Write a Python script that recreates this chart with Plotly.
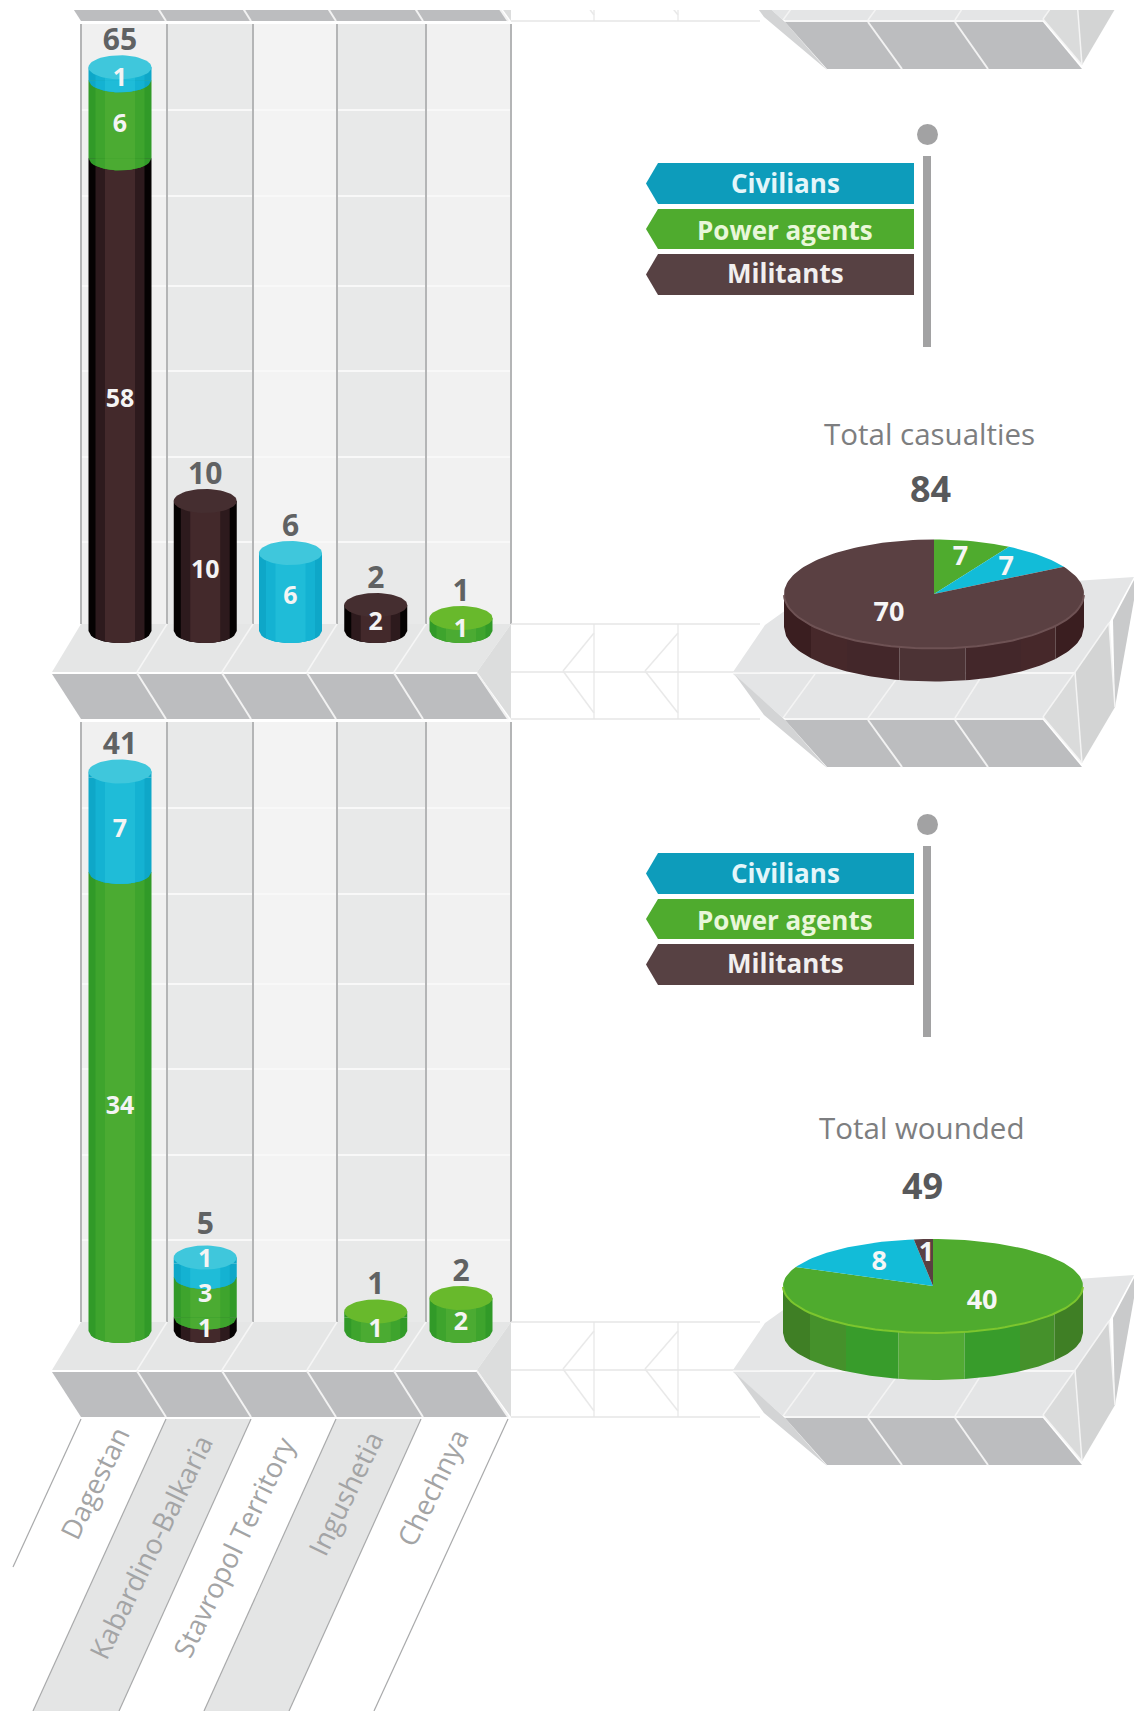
import numpy as np
import plotly.graph_objects as go

regions = ["Dagestan", "Kabardino-Balkaria", "Stavropol Territory", "Ingushetia", "Chechnya"]
killed_civilians = [1, 0, 6, 0, 0]
killed_agents = [6, 0, 0, 0, 1]
killed_militants = [58, 10, 0, 2, 0]
wounded_civilians = [7, 1, 0, 0, 0]
wounded_agents = [34, 3, 0, 1, 2]
wounded_militants = [0, 1, 0, 0, 0]
pie_killed_labels = ["Power agents", "Civilians", "Militants"]
pie_killed_values = [7, 7, 70]
pie_wounded_labels = ["Power agents", "Civilians", "Militants"]
pie_wounded_values = [40, 8, 1]
legend_labels = ["Civilians", "Power agents", "Militants"]

W, H = 1134, 1711
FONT = "Open Sans"
PANEL_DY = 698


def fx(x):
    return x / W


def fy(y):
    return 1 - y / H


shapes = []


def poly(pts, fill, dy=0):
    d = "M" + " L".join(f"{fx(x):.5f},{fy(y + dy):.5f}" for x, y in pts) + " Z"
    shapes.append(dict(type="path", path=d, xref="paper", yref="paper", layer="below",
                       fillcolor=fill, line=dict(width=0)))


def seg(p, q, color, width=1.5, dy=0):
    shapes.append(dict(type="line", xref="paper", yref="paper", layer="below",
                       x0=fx(p[0]), y0=fy(p[1] + dy), x1=fx(q[0]), y1=fy(q[1] + dy),
                       line=dict(color=color, width=width)))


# ---- scenery -------------------------------------------------------------
COL_X = [81, 167, 253, 337, 426, 511]
COL_FILL = ["#f0f0f0", "#e8e9e9", "#f3f3f3", "#e8e9e9", "#f1f1f1"]
FRONT_X = [52, 137, 222, 307, 394, 477]
LOW_X = [81, 166, 251, 336, 423, 508]

for dy in (0, PANEL_DY):
    for i, c in enumerate(COL_FILL):
        poly([(COL_X[i], 24), (COL_X[i + 1], 24), (COL_X[i + 1], 624), (COL_X[i], 624)], c, dy)
    for gy in (110, 196, 286, 371, 457, 542):
        seg((81, gy), (511, gy), "#f8f8f8", 2, dy)
    for x in COL_X:
        seg((x, 24), (x, 624), "#b4b5b6", 2, dy)

for dy in (-PANEL_DY, 0, PANEL_DY):
    # connector lines between plinths
    for ly in (624, 672, 719):
        seg((511, ly), (760, ly), "#e6e6e6", 1.5, dy)
    for vx, tip in ((594, 563), (678, 645)):
        seg((vx, 624), (vx, 719), "#e6e6e6", 1.2, dy)
        seg((vx, 633), (tip, 671), "#e9e9e9", 1.5, dy)
        seg((tip, 671), (vx, 713), "#e9e9e9", 1.5, dy)
    # left plinth
    poly([(81, 624), (511, 624), (477, 672), (52, 672)], "#e5e6e6", dy)
    poly([(477, 672), (511, 624), (511, 719)], "#dcdddd", dy)
    poly([(52, 674), (477, 674), (508, 719), (81, 719)], "#bcbdbf", dy)
    for i in range(1, 5):
        seg((COL_X[i], 624), (FRONT_X[i], 672), "#f6f6f6", 1.5, dy)
    for i in range(1, 6):
        seg((FRONT_X[i], 673), (LOW_X[i], 719), "#f2f2f2", 2, dy)
    # right plinth
    poly([(765, 625), (800, 600), (1134, 577), (1109, 623), (1075, 672), (733, 672)], "#e4e5e6", dy)
    poly([(733, 674), (1075, 674), (1043, 718), (783, 718)], "#e4e5e6", dy)
    poly([(735, 675), (785, 720), (827, 768), (764, 715)], "#d3d4d5", dy)
    poly([(785, 720), (1043, 720), (1082, 767), (827, 767)], "#bcbdbf", dy)
    poly([(1075, 672), (1043, 717), (1082, 763)], "#dadbdb", dy)
    poly([(1109, 623), (1075, 672), (1082, 763), (1115, 707)], "#d3d4d4", dy)
    poly([(1113, 620), (1134, 580), (1134, 600), (1115, 707)], "#c9cacb", dy)
    seg((733, 673), (1075, 673), "#f4f4f4", 1.5, dy)
    seg((785, 719), (1043, 719), "#f4f4f4", 1.5, dy)
    seg((1109, 623), (1075, 672), "#f4f4f4", 1.5, dy)
    seg((1075, 672), (1043, 717), "#f4f4f4", 1.5, dy)
    seg((1109, 623), (1115, 707), "#f4f4f4", 1.5, dy)
    seg((1075, 672), (1082, 763), "#f4f4f4", 1.5, dy)
    seg((1043, 717), (1082, 763), "#f4f4f4", 1.5, dy)
    for a, b in (((815, 674), (783, 718)), ((900, 674), (868, 718)), ((983, 674), (955, 718))):
        seg(a, b, "#f4f4f4", 1.5, dy)
    for a, b in (((868, 720), (902, 767)), ((955, 720), (988, 767))):
        seg(a, b, "#f2f2f2", 2, dy)

# page edge above the first visible plinth
shapes.append(dict(type="rect", xref="paper", yref="paper", layer="below",
                   x0=0, x1=1, y0=fy(10), y1=1, fillcolor="white", line=dict(width=0)))

# slanted label bands
band_top = [81, 166, 251, 336, 421, 508]
band_end = [(13, 1567), (33, 1711), (119, 1711), (204, 1711), (289, 1711), (374, 1711)]
for i in (1, 3):
    poly([(band_top[i], 1419), (band_top[i + 1], 1419), band_end[i + 1], band_end[i]], "#e4e5e5")
for top, end in zip(band_top, band_end):
    seg((top, 1419), end, "#a9aaab", 1.2)

# flag legends
LEGEND_FILL = ["#0d9cbb", "#4fab2e", "#574143"]
LEGEND_TEXT = ["#e4f6fa", "#e9f7da", "#f2efef"]
FLAG_Y = [(163, 204, 183), (209, 249, 230), (254, 295, 273)]
annotations = []


def note(x, y, text, size, color, angle=0):
    annotations.append(dict(x=fx(x), y=fy(y), xref="paper", yref="paper", text=text, showarrow=False,
                            textangle=angle, xanchor="center", yanchor="middle",
                            font=dict(family=FONT, size=size, color=color)))


for dy in (0, 690):
    for (t, b, ty), fill, txtc, lab in zip(FLAG_Y, LEGEND_FILL, LEGEND_TEXT, legend_labels):
        poly([(646, (t + b) / 2), (658, t), (914, t), (914, b), (658, b)], fill, dy)
        note(785, ty + dy, f"<b>{lab}</b>", 26, txtc)
    poly([(923, 156), (931, 156), (931, 347), (923, 347)], "#a2a2a3", dy)
    shapes.append(dict(type="circle", xref="paper", yref="paper", layer="below",
                       x0=fx(917), x1=fx(938), y0=fy(124 + dy), y1=fy(145 + dy),
                       fillcolor="#a2a2a3", line=dict(width=0)))

for name, (lx, ly) in zip(regions, [(94, 1483), (150, 1547), (233, 1547), (345, 1493), (432, 1487)]):
    note(lx, ly, name, 27.5, "#a3a4a5", -64)

# ---- cylinders -----------------------------------------------------------
PX_PER_CAT = 85.25
X0_PX = 120
X_DOM_PX = (60, 520)
x_range = [(X_DOM_PX[0] - X0_PX) / PX_PER_CAT, (X_DOM_PX[1] - X0_PX) / PX_PER_CAT]
HALF_W = 31.5 / PX_PER_CAT
LAYERS = [1.0, 24.5 / 31.5, 15 / 31.5]
ELLIPSE_PX = 12
LABEL_GAP_PX = 35
TOTAL_CLEAR_PX = 19

BROWN = ["#050202", "#2d1a1d", "#43292b"]
GREEN = ["#319a28", "#3ea42d", "#4bab32"]
CYAN = ["#0ea7c8", "#14b2d2", "#1fbcd8"]
TOP_COLOR = {"m": "#452e30", "a": "#68b92c", "c": "#3fc7dc"}
SERIES_COLORS = {"m": BROWN, "a": GREEN, "c": CYAN}

traces = []


def y_range(base_px, scale, dom):
    return [(base_px - dom[1]) / scale, (base_px - dom[0]) / scale]


def scatter_poly(xs, ys, color, xa, ya):
    return go.Scatter(x=xs, y=ys, mode="lines", fill="toself", fillcolor=color,
                      line=dict(width=0, color=color), hoverinfo="skip", showlegend=False,
                      xaxis=xa, yaxis=ya)


def cylinder_panel(civ, agents, mil, ya, scale, broken=None, lid_px=0):
    """Stack militants, power agents, civilians; broken = (axis, px per unit) for
    the one segment in this panel that the source foreshortens."""
    n = len(regions)
    cum = np.zeros(n)
    e = ELLIPSE_PX / scale
    lid = lid_px / scale
    arcs, labels = [], []
    tops = [None] * n
    last_label = [None] * n
    for key, vals in (("m", mil), ("a", agents), ("c", civ)):
        vals = np.array(vals, float)
        heights = vals.copy()
        if broken and key == "m":
            heights[0] = vals[0] * broken[1] / scale
        for lw, color in zip(LAYERS, SERIES_COLORS[key]):
            if broken and key == "m":
                traces.append(go.Bar(x=[0], y=[vals[0]], base=[0], width=2 * HALF_W * lw,
                                     marker=dict(color=color, line=dict(width=0)),
                                     xaxis="x", yaxis=broken[0], showlegend=False, hoverinfo="skip"))
                rest = list(range(1, n))
            else:
                rest = list(range(n))
            traces.append(go.Bar(x=rest, y=vals[rest], base=cum[rest], width=2 * HALF_W * lw,
                                 marker=dict(color=color, line=dict(width=0)),
                                 xaxis="x", yaxis=ya, showlegend=False, hoverinfo="skip"))
        for i in range(n):
            if vals[i] <= 0:
                continue
            for lw, color in zip(LAYERS, SERIES_COLORS[key]):
                t = np.linspace(-lw, lw, 25)
                xs = i + t * HALF_W
                ys = cum[i] - e * np.sqrt(1 - t ** 2)
                arcs.append((list(xs) + [xs[-1], xs[0]], list(ys) + [cum[i], cum[i]], color))
            ly = cum[i] + heights[i] / 2 - 6 / scale
            if last_label[i] is not None:
                ly = max(ly, last_label[i] + LABEL_GAP_PX / scale)
            last_label[i] = ly
            labels.append((i, ly, f"{int(vals[i])}"))
            cum[i] += heights[i]
            tops[i] = key
    for xs, ys, color in arcs:
        traces.append(scatter_poly(xs, ys, color, "x", ya))
    th = np.linspace(0, 2 * np.pi, 60)
    for i in range(n):
        if tops[i]:
            if lid > 0:
                for lw, color in zip(LAYERS, SERIES_COLORS[tops[i]]):
                    xl, xr = i - HALF_W * lw, i + HALF_W * lw
                    traces.append(scatter_poly([xl, xr, xr, xl], [cum[i], cum[i], cum[i] + lid, cum[i] + lid],
                                               color, "x", ya))
            traces.append(scatter_poly(i + HALF_W * np.cos(th), cum[i] + lid + e * np.sin(th),
                                       TOP_COLOR[tops[i]], "x", ya))
    traces.append(go.Scatter(x=[l[0] for l in labels], y=[l[1] for l in labels], text=[l[2] for l in labels],
                             mode="text", textposition="middle center",
                             textfont=dict(family=FONT, size=25, color="#f4f4f4", weight=700),
                             xaxis="x", yaxis=ya, showlegend=False, hoverinfo="skip"))
    shown = [i for i in range(n) if tops[i]]
    totals = np.array(civ) + np.array(agents) + np.array(mil)
    total_y = [max(cum[i] + lid + (ELLIPSE_PX - 2) / scale, last_label[i] + TOTAL_CLEAR_PX / scale) for i in shown]
    traces.append(go.Scatter(x=shown, y=total_y,
                             text=[str(int(totals[i])) for i in shown],
                             mode="text", textposition="top center",
                             textfont=dict(family=FONT, size=30, color="#606263", weight=700),
                             xaxis="x", yaxis=ya, showlegend=False, hoverinfo="skip"))


SCALE_1, SCALE_BROKEN, SCALE_2 = 13.0, 8.15, 13.5
DOM_1, DOM_2 = (20, 655), (718, 1355)
BASE_1, BASE_2 = 631, 1331
cylinder_panel(killed_civilians, killed_agents, killed_militants, "y2", SCALE_1, broken=("y", SCALE_BROKEN))
cylinder_panel(wounded_civilians, wounded_agents, wounded_militants, "y3", SCALE_2, lid_px=6)


# ---- perspective pies ----------------------------------------------------
def pie_panel(values, labels, xa, ya, b, depth, side_colors, rim):
    colors = {"Power agents": "#4fab2e", "Civilians": "#12bcd8", "Militants": "#5a4042"}
    total = sum(values)
    d = depth / b
    edges = [-1, -0.82, -0.58, -0.23, 0.21, 0.58, 0.81, 1]
    for k, c in enumerate(side_colors):
        xs = np.linspace(edges[k], edges[k + 1], 14)
        rimy = -np.sqrt(np.clip(1 - xs ** 2, 0, 1))
        traces.append(scatter_poly(list(xs) + list(xs[::-1]), list(rimy) + list(rimy[::-1] - d), c, xa, ya))
    start = 0.0
    text_x, text_y, text = [], [], []
    for v, lab in zip(values, labels):
        stop = start + v / total * 2 * np.pi
        th = np.linspace(start, stop, max(3, int(v / total * 180)))
        xs = [0] + list(np.sin(th)) + [0]
        ys = [0] + list(np.cos(th)) + [0]
        traces.append(scatter_poly(xs, ys, colors[lab], xa, ya))
        mid = (start + stop) / 2
        share = v / total
        r = 0.68 if share < 0.1 else 0.6
        ry = r * 0.7 if share > 0.5 else r
        text_x.append(r * np.sin(mid))
        text_y.append(ry * np.cos(mid))
        text.append(str(v))
        start = stop
    t = np.linspace(np.pi / 2 + 0.02, 3 * np.pi / 2 - 0.02, 60)
    traces.append(go.Scatter(x=np.sin(t), y=np.cos(t), mode="lines", line=dict(color=rim, width=2),
                             xaxis=xa, yaxis=ya, showlegend=False, hoverinfo="skip"))
    traces.append(go.Scatter(x=text_x, y=text_y, text=text, mode="text", textposition="middle center",
                             textfont=dict(family=FONT, size=27, color="#f6f6f6", weight=700),
                             xaxis=xa, yaxis=ya, showlegend=False, hoverinfo="skip"))


PIE_R = 150
PIE_1 = dict(cx=934, cy=594, b=54.5, depth=33)
PIE_2 = dict(cx=933, cy=1286, b=47, depth=47)
pie_panel(pie_killed_values, pie_killed_labels, "x2", "y4", PIE_1["b"], PIE_1["depth"],
          ["#3a1e20", "#46282a", "#43272a", "#4c3335", "#43272a", "#46282a", "#3a1e20"], "#6e5254")
pie_panel(pie_wounded_values, pie_wounded_labels, "x3", "y5", PIE_2["b"], PIE_2["depth"],
          ["#3f7f25", "#45912b", "#389c2b", "#52ab33", "#389c2b", "#45912b", "#3f7f25"], "#7cc62e")

note(929, 433, "Total casualties", 29.5, "#7d7e80")
note(930, 489, f"<b>{sum(pie_killed_values)}</b>", 36, "#58595b")
note(921, 1127, "Total wounded", 29.5, "#7d7e80")
note(922, 1185, f"<b>{sum(pie_wounded_values)}</b>", 36, "#58595b")

# ---- axes ----------------------------------------------------------------
hidden = dict(visible=False, showgrid=False, zeroline=False, fixedrange=True)


def ydom(px):
    return [1 - px[1] / H, 1 - px[0] / H]


def pie_axes(p):
    xr = [-1.05, 1.05]
    d = p["depth"] / p["b"]
    yr = [-1.05 - d, 1.05]
    xd = [fx(p["cx"] + xr[0] * PIE_R), fx(p["cx"] + xr[1] * PIE_R)]
    yd = [fy(p["cy"] - yr[0] * p["b"]), fy(p["cy"] - yr[1] * p["b"])]
    return dict(range=xr, domain=xd, **hidden), dict(range=yr, domain=yd, **hidden)


x2, y4 = pie_axes(PIE_1)
x3, y5 = pie_axes(PIE_2)
x2["anchor"] = "y4"
y4["anchor"] = "x2"
x3["anchor"] = "y5"
y5["anchor"] = "x3"

fig = go.Figure(traces)
fig.update_layout(
    width=W, height=H, margin=dict(l=0, r=0, t=0, b=0), autosize=False,
    paper_bgcolor="white", plot_bgcolor="rgba(0,0,0,0)", barmode="overlay", showlegend=False,
    shapes=shapes, annotations=annotations,
    xaxis=dict(range=x_range, domain=[fx(X_DOM_PX[0]), fx(X_DOM_PX[1])], **hidden),
    yaxis=dict(range=y_range(BASE_1, SCALE_BROKEN, DOM_1), domain=ydom(DOM_1), **hidden),
    yaxis2=dict(range=y_range(BASE_1, SCALE_1, DOM_1), domain=ydom(DOM_1), overlaying="y", **hidden),
    yaxis3=dict(range=y_range(BASE_2, SCALE_2, DOM_2), domain=ydom(DOM_2), anchor="x", **hidden),
    xaxis2=x2, yaxis4=y4, xaxis3=x3, yaxis5=y5,
)
fig.write_html("out.html", config={"displayModeBar": False},
               post_script="document.body.style.margin='0';")
